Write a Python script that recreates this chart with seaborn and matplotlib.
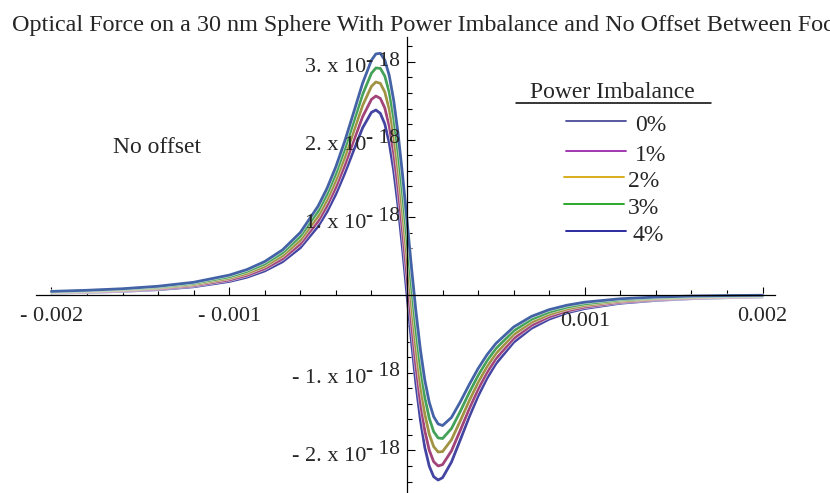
import numpy as np
import pandas as pd
import matplotlib
matplotlib.use("Agg")
import matplotlib.pyplot as plt
import seaborn as sns

# position between foci (same units as the original axis)
x_vals = [-0.002, -0.0018, -0.0016, -0.0014, -0.0012, -0.001, -0.0009, -0.0008, -0.0007,
          -0.0006, -0.0005, -0.00045, -0.0004, -0.00035, -0.0003, -0.00025, -0.0002,
          -0.000175, -0.00015, -0.000125, -0.0001, -0.000075, -0.00005, -0.000025, 0.0,
          0.000025, 0.00005, 0.000075, 0.0001, 0.000125, 0.00015, 0.000175, 0.0002,
          0.00025, 0.0003, 0.00035, 0.0004, 0.00045, 0.0005, 0.0006, 0.0007, 0.0008,
          0.0009, 0.001, 0.0012, 0.0014, 0.0016, 0.0018, 0.002]

# optical force, in units of 1e-18
force_0 = [0.025, 0.034, 0.047, 0.069, 0.106, 0.174, 0.229, 0.310, 0.428, 0.608, 0.884, 1.071,
           1.299, 1.567, 1.862, 2.150, 2.351, 2.381, 2.338, 2.202, 1.960, 1.603, 1.140, 0.593, 0.0,
           -0.593, -1.140, -1.603, -1.960, -2.202, -2.338, -2.381, -2.351, -2.150, -1.862, -1.567,
           -1.299, -1.071, -0.884, -0.608, -0.428, -0.310, -0.229, -0.174, -0.106, -0.069, -0.047,
           -0.034, -0.025]
force_1 = [0.030, 0.040, 0.056, 0.080, 0.121, 0.194, 0.254, 0.340, 0.466, 0.657, 0.949, 1.147,
           1.387, 1.670, 1.984, 2.293, 2.518, 2.561, 2.531, 2.408, 2.177, 1.829, 1.374, 0.831, 0.240,
           -0.355, -0.906, -1.377, -1.743, -1.997, -2.145, -2.200, -2.183, -2.006, -1.740, -1.463,
           -1.211, -0.996, -0.819, -0.559, -0.390, -0.279, -0.205, -0.154, -0.091, -0.058, -0.039,
           -0.027, -0.020]
force_2 = [0.036, 0.047, 0.064, 0.091, 0.135, 0.215, 0.279, 0.370, 0.505, 0.706, 1.014, 1.222,
           1.476, 1.774, 2.106, 2.437, 2.686, 2.742, 2.724, 2.613, 2.393, 2.056, 1.607, 1.070, 0.480,
           -0.116, -0.673, -1.150, -1.527, -1.791, -1.951, -2.020, -2.015, -1.863, -1.618, -1.360,
           -1.123, -0.920, -0.754, -0.509, -0.351, -0.249, -0.180, -0.133, -0.077, -0.047, -0.030,
           -0.020, -0.014]
force_3 = [0.041, 0.054, 0.073, 0.102, 0.150, 0.235, 0.304, 0.401, 0.543, 0.756, 1.079, 1.298,
           1.564, 1.878, 2.228, 2.580, 2.854, 2.922, 2.917, 2.819, 2.610, 2.282, 1.841, 1.308, 0.720,
           0.122, -0.439, -0.924, -1.310, -1.586, -1.758, -1.839, -1.847, -1.719, -1.496, -1.256,
           -1.034, -0.845, -0.689, -0.460, -0.313, -0.219, -0.155, -0.113, -0.062, -0.036, -0.022,
           -0.014, -0.009]
force_4 = [0.047, 0.061, 0.081, 0.113, 0.164, 0.256, 0.328, 0.431, 0.581, 0.805, 1.144, 1.373,
           1.652, 1.981, 2.350, 2.724, 3.022, 3.103, 3.111, 3.024, 2.827, 2.508, 2.075, 1.547, 0.960,
           0.361, -0.205, -0.698, -1.093, -1.380, -1.565, -1.659, -1.680, -1.576, -1.374, -1.153,
           -0.946, -0.769, -0.624, -0.411, -0.275, -0.188, -0.131, -0.092, -0.048, -0.026, -0.013,
           -0.007, -0.003]

imbalance_labels = ["0%", "1%", "2%", "3%", "4%"]
curve_colors = ["#4444a2", "#a2447a", "#a29344", "#44a258", "#4463a6"]
legend_colors = ["#4a4a9a", "#9a2aaa", "#d4a80a", "#1aa01a", "#1a1a9a"]

x_ticks = [-0.002, -0.001, 0.001, 0.002]
x_tick_labels = ["- 0.002", "- 0.001", "0.001", "0.002"]
y_ticks = [3, 2, 1, -1, -2]
y_tick_main = ["3. x 10", "2. x 10", "1. x 10", "- 1. x 10", "- 2. x 10"]

title = "Optical Force on a 30 nm Sphere With Power Imbalance and No Offset Between Foci"

sns.set_theme(style="white")
plt.rcParams["font.family"] = ["Liberation Serif", "DejaVu Serif"]

W, H = 830, 493
fig = plt.figure(figsize=(W / 100, H / 100), dpi=100)
ax = fig.add_axes([0, 0, 1, 1])

all_forces = [force_0, force_1, force_2, force_3, force_4]
df = pd.DataFrame({
    "x": np.tile(x_vals, len(all_forces)),
    "force": np.concatenate(all_forces),
    "imbalance": np.repeat(imbalance_labels, len(x_vals)),
})

for lbl, col in zip(imbalance_labels, curve_colors):
    sub = df[df["imbalance"] == lbl]
    sns.lineplot(data=sub, x="x", y="force", color="white", lw=2.9, alpha=0.7, ax=ax,
                 sort=False, estimator=None)
    sns.lineplot(data=sub, x="x", y="force", color=col, lw=2.0, ax=ax,
                 sort=False, estimator=None)

# axes through the origin, Mathematica style
ax.set_xlim(-0.002289, 0.002379)
ax.set_ylim(-2.548, 3.797)
ax.set_xlabel("")
ax.set_ylabel("")
for s in ["top", "right"]:
    ax.spines[s].set_visible(False)
ax.spines["left"].set_position(("data", 0))
ax.spines["bottom"].set_position(("data", 0))
ax.spines["left"].set_bounds(-2.548, 3.32)
ax.spines["bottom"].set_bounds(-0.002084, 0.00207)
for s in ["left", "bottom"]:
    ax.spines[s].set_color("black")
    ax.spines[s].set_linewidth(0.9)

x_minor = [v for v in np.round(np.arange(-0.002, 0.00201, 0.0002), 6)
           if v != 0 and v not in x_ticks]
y_minor = [v for v in np.round(np.arange(-2.4, 3.21, 0.2), 2)
           if v != 0 and v not in y_ticks]
ax.set_xticks(x_ticks)
ax.set_xticks(x_minor, minor=True)
ax.set_yticks(y_ticks)
ax.set_yticks(y_minor, minor=True)
ax.tick_params(which="both", direction="in", color="black", width=0.8,
               labelbottom=False, labelleft=False, bottom=True, left=True)
ax.tick_params(which="major", length=6)
ax.tick_params(which="minor", length=3.6)
ax.grid(False)

# tick labels drawn by hand
for v, lbl in zip(x_ticks, x_tick_labels):
    dy = -12.2 if v == 0.001 else -8.6
    ax.annotate(lbl, xy=(v, 0), xytext=(0, dy), textcoords="offset points",
                ha="center", va="top", fontsize=16)
for v, lbl in zip(y_ticks, y_tick_main):
    ax.annotate(lbl, xy=(0, v), xytext=(-29.5, -7.4), textcoords="offset points",
                ha="right", va="baseline", fontsize=16)
    ax.annotate("- 18", xy=(0, v), xytext=(-29.6, -2.6), textcoords="offset points",
                ha="left", va="baseline", fontsize=15.5)

# title runs off the right edge, as in the original
fig.text(12 / W, 1 - 31 / H, title, ha="left", va="baseline", fontsize=17.35)
fig.text(113 / W, 1 - 153 / H, "No offset", ha="left", va="baseline", fontsize=17)

# legend
fig.text(612 / W, 1 - 98 / H, "Power Imbalance", ha="center", va="baseline", fontsize=17)
fig.add_artist(plt.Line2D([516 / W, 711 / W], [1 - 103 / H, 1 - 103 / H], color="black", lw=1.1))
leg_y = [120.7, 150.7, 177.3, 204.0, 231.3]
leg_x0 = [566, 566, 564, 564, 566]
leg_tx = [635, 635, 628, 628, 632]
for lbl, col, y, x0, tx in zip(imbalance_labels, legend_colors, leg_y, leg_x0, leg_tx):
    fig.add_artist(plt.Line2D([x0 / W, (x0 + 60) / W], [1 - y / H, 1 - y / H], color=col, lw=1.3))
    fig.text(tx / W, 1 - (y + 10) / H, lbl, ha="left", va="baseline", fontsize=17)

fig.savefig("out.png", dpi=100)
